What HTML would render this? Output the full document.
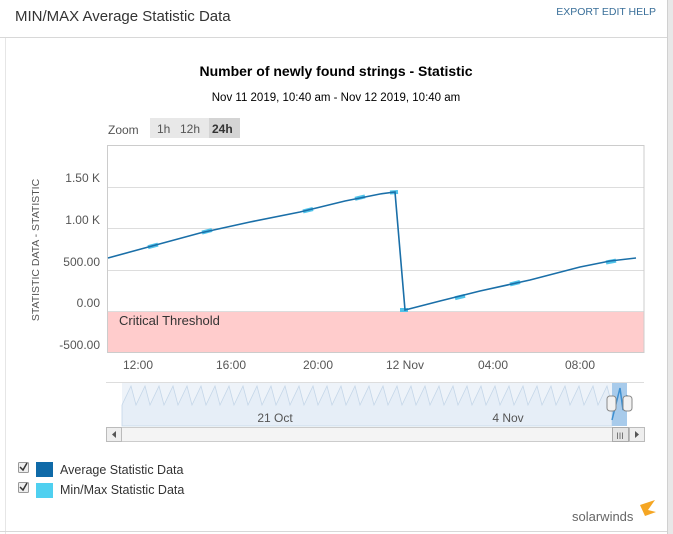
<!DOCTYPE html>
<html><head><style>
html,body{margin:0;padding:0;width:673px;height:534px;overflow:hidden;background:#e8e8e8;font-family:"Liberation Sans",sans-serif}
</style></head><body>
<svg width="673" height="534" xmlns="http://www.w3.org/2000/svg" style="position:absolute;left:0;top:0">
<rect x="0" y="0" width="668" height="534" fill="#fff"/>
<line x1="667.5" y1="0" x2="667.5" y2="534" stroke="#d0d0d0"/>
<line x1="0" y1="37.5" x2="667" y2="37.5" stroke="#d8d8d8"/>
<line x1="5.5" y1="38" x2="5.5" y2="534" stroke="#e6e6e6"/>
<line x1="0" y1="531.5" x2="667" y2="531.5" stroke="#d8d8d8"/>
<text x="15" y="21" font-size="15" fill="#333">MIN/MAX Average Statistic Data</text>
<text x="656" y="15" font-size="10.5" fill="#3a6f99" text-anchor="end">EXPORT  EDIT  HELP</text>
<text x="336" y="76" font-size="14" font-weight="bold" fill="#000" text-anchor="middle">Number of newly found strings - Statistic</text>
<text x="336" y="101" font-size="11.5" fill="#000" text-anchor="middle">Nov 11 2019, 10:40 am - Nov 12 2019, 10:40 am</text>
<text x="108" y="134" font-size="12" fill="#555">Zoom</text>
<rect x="150" y="118" width="90" height="20" fill="#e8e8e8"/>
<rect x="209" y="118" width="31" height="20" fill="#d4d4d4"/>
<text x="157" y="133" font-size="12" fill="#555">1h</text>
<text x="180" y="133" font-size="12" fill="#555">12h</text>
<text x="212" y="133" font-size="12" font-weight="bold" fill="#333">24h</text>
<rect x="108" y="312" width="536" height="40" fill="#ffcccc"/>
<g stroke="#ddd" stroke-width="1">
<line x1="108" y1="187.5" x2="644" y2="187.5"/>
<line x1="108" y1="228.5" x2="644" y2="228.5"/>
<line x1="108" y1="270.5" x2="644" y2="270.5"/>
<line x1="108" y1="311.5" x2="644" y2="311.5"/>
</g>
<rect x="107.5" y="145.5" width="536.5" height="207" fill="none" stroke="#ccc"/>
<text x="119" y="325" font-size="13" fill="#333">Critical Threshold</text>
<g font-size="12" fill="#555" text-anchor="end">
<text x="100" y="182">1.50 K</text>
<text x="100" y="224">1.00 K</text>
<text x="100" y="266">500.00</text>
<text x="100" y="307">0.00</text>
<text x="100" y="349">-500.00</text>
</g>
<text transform="translate(39,250) rotate(-90)" font-size="10.5" fill="#555" text-anchor="middle">STATISTIC DATA - STATISTIC</text>
<g font-size="12" fill="#555" text-anchor="middle">
<text x="138" y="369">12:00</text><text x="231" y="369">16:00</text><text x="318" y="369">20:00</text>
<text x="405" y="369">12 Nov</text><text x="493" y="369">04:00</text><text x="580" y="369">08:00</text>
</g>
<g stroke="#4fc3ea" stroke-width="4">
<line x1="148" y1="247.2" x2="158" y2="244.6"/>
<line x1="202" y1="232.6" x2="212" y2="230"/>
<line x1="303" y1="211.4" x2="313" y2="209"/>
<line x1="355" y1="198.8" x2="365" y2="196.4"/>
<line x1="455" y1="298.2" x2="465" y2="295.8"/>
<line x1="510" y1="284.4" x2="520" y2="282"/>
<line x1="606" y1="262.5" x2="616" y2="260.6"/>
<line x1="400" y1="310" x2="408" y2="310"/>
<line x1="390" y1="192.5" x2="398" y2="192"/>
</g>
<polyline points="108,258 152,246 200,233 250,222 300,212 345,201 380,194 395,192 405,310 440,301 480,291 530,280 580,267 610,261 636,258" fill="none" stroke="#1a6fa8" stroke-width="1.6"/>
<line x1="106" y1="382.5" x2="644" y2="382.5" stroke="#ddd"/>
<rect x="122" y="383" width="490" height="43" fill="#eef3f9"/>
<path d="M122,405 L131,386 L136,405 L145,386 L150,405 L159,386 L164,405 L173,386 L178,405 L187,386 L192,405 L201,386 L206,405 L215,386 L220,405 L229,386 L234,405 L243,386 L248,405 L257,386 L262,405 L271,386 L276,405 L285,386 L290,405 L299,386 L304,405 L313,386 L318,405 L327,386 L332,405 L341,386 L346,405 L355,386 L360,405 L369,386 L374,405 L383,386 L388,405 L397,386 L402,405 L411,386 L416,405 L425,386 L430,405 L439,386 L444,405 L453,386 L458,405 L467,386 L472,405 L481,386 L486,405 L495,386 L500,405 L509,386 L514,405 L523,386 L528,405 L537,386 L542,405 L551,386 L556,405 L565,386 L570,405 L579,386 L584,405 L593,386 L598,405 L607,386 L612,405 L612,426 L122,426Z" fill="#e6eef7" stroke="#c4d6e8" stroke-width="0.8"/>
<rect x="612" y="383" width="15" height="43" fill="#a8cbeb"/>
<path d="M612,420 L620,388 L623,410 L627,395" fill="none" stroke="#3d8fd0" stroke-width="1.5"/>
<rect x="607" y="396" width="9" height="15" rx="3" fill="#f2f2f2" stroke="#888"/>
<rect x="623" y="396" width="9" height="15" rx="3" fill="#f2f2f2" stroke="#888"/>
<text x="275" y="422" font-size="12" fill="#555" text-anchor="middle">21 Oct</text>
<text x="508" y="422" font-size="12" fill="#555" text-anchor="middle">4 Nov</text>
<rect x="106.5" y="427.5" width="537" height="14" fill="#f4f4f4" stroke="#ccc"/>
<rect x="106.5" y="427.5" width="15" height="14" fill="#eee" stroke="#bbb"/>
<path d="M116,431 L112,434.5 L116,438Z" fill="#555"/>
<rect x="612.5" y="427.5" width="16" height="14" fill="#e4e4e4" stroke="#aaa"/>
<text x="620" y="439" font-size="9" fill="#666" text-anchor="middle">III</text>
<rect x="629.5" y="427.5" width="15" height="14" fill="#eee" stroke="#bbb"/>
<path d="M635,431 L639,434.5 L635,438Z" fill="#555"/>
<rect x="18.5" y="462.5" width="10" height="10" fill="#eee" stroke="#999" rx="1"/>
<path d="M20,467 L23,470 L27,463" fill="none" stroke="#333" stroke-width="1.5"/>
<rect x="36" y="462" width="17" height="15" fill="#0f6aa8"/>
<text x="60" y="474" font-size="12.5" fill="#333">Average Statistic Data</text>
<rect x="18.5" y="482.5" width="10" height="10" fill="#eee" stroke="#999" rx="1"/>
<path d="M20,487 L23,490 L27,483" fill="none" stroke="#333" stroke-width="1.5"/>
<rect x="36" y="483" width="17" height="15" fill="#4fd0f0"/>
<text x="60" y="494" font-size="12.5" fill="#333">Min/Max Statistic Data</text>
<text x="572" y="521" font-size="13" fill="#666">solarwinds</text>
<path d="M640,505 L655,500 L648,510 L656,512 L645,516 Z" fill="#f5a623"/>
</svg>
</body></html>
